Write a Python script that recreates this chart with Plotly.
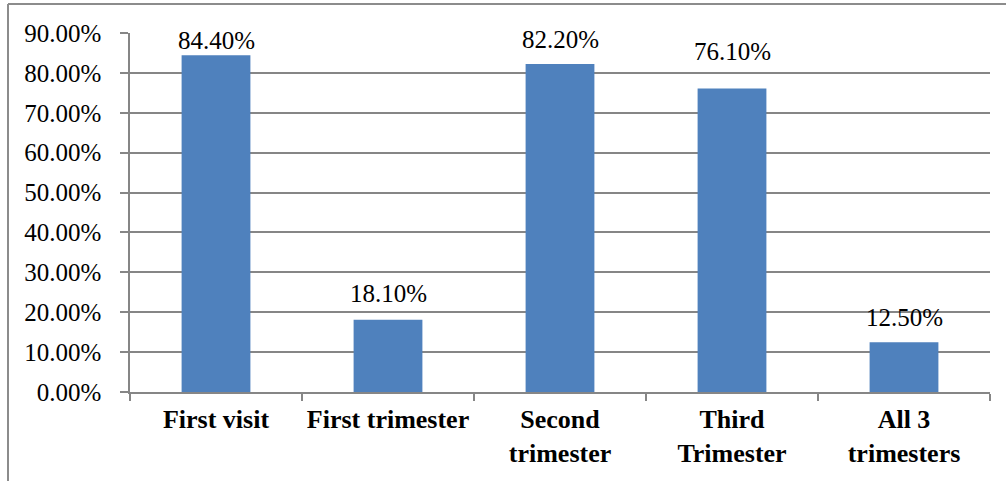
import plotly.graph_objects as go

categories = ["First visit", "First trimester", "Second<br>trimester", "Third<br>Trimester", "All 3<br>trimesters"]
percent_values = [84.4, 18.1, 82.2, 76.1, 12.5]
y_tick_values = [0, 10, 20, 30, 40, 50, 60, 70, 80, 90]
y_tick_labels = [f"{v:.2f}%" for v in y_tick_values]

# vertical pixel shift of each value label above its bar top
label_shift = [15, 26, 25, 37, 25]

BAR_COLOR = "#4F81BD"
GRID_COLOR = "#868686"
FONT = "'Times New Roman', 'Liberation Serif', serif"

fig = go.Figure(
    go.Bar(
        x=categories,
        y=percent_values,
        marker=dict(color=BAR_COLOR, line=dict(width=0)),
        width=0.4,
        hoverinfo="skip",
    )
)

for cat, val, shift in zip(categories, percent_values, label_shift):
    fig.add_annotation(
        x=cat, y=val, text=f"{val:.2f}%", showarrow=False,
        yanchor="middle", yshift=shift,
        font=dict(family=FONT, size=25, color="#000000"),
    )

L, R, T, B = 130, 16, 33, 89
W, H = 1006, 481
pw, ph = W - L - R, H - T - B

# outer chart frame (left and top edges)
fig.add_shape(type="line", xref="paper", yref="paper",
              x0=(8 - L) / pw, x1=(W - L) / pw + 0.01,
              y0=1 + (T - 4) / ph, y1=1 + (T - 4) / ph,
              line=dict(color="#8C8C8C", width=2))
fig.add_shape(type="line", xref="paper", yref="paper",
              x0=(8 - L) / pw, x1=(8 - L) / pw,
              y0=1 + (T - 4) / ph, y1=-(B + 5) / ph,
              line=dict(color="#8C8C8C", width=2))

fig.update_layout(
    width=W, height=H,
    margin=dict(l=L, r=R, t=T, b=B, pad=0),
    paper_bgcolor="white", plot_bgcolor="white",
    showlegend=False,
    font=dict(family=FONT, color="#000000"),
)

fig.update_xaxes(
    type="category",
    showgrid=False,
    showline=True, linecolor=GRID_COLOR, linewidth=2,
    ticks="outside", tickson="boundaries", ticklen=7, tickcolor=GRID_COLOR, tickwidth=1.5,
    tickfont=dict(family=FONT, size=26, color="#000000", weight="bold"),
    ticklabelstandoff=3,
)
fig.update_yaxes(
    range=[0, 90],
    tickvals=y_tick_values, ticktext=y_tick_labels,
    showgrid=True, gridcolor=GRID_COLOR, gridwidth=2,
    showline=True, linecolor=GRID_COLOR, linewidth=1.5,
    ticks="outside", ticklen=8, tickcolor=GRID_COLOR, tickwidth=1.5,
    tickfont=dict(family=FONT, size=25, color="#000000"),
    ticklabelstandoff=14,
    zeroline=False,
)

fig.write_html("out.html")
